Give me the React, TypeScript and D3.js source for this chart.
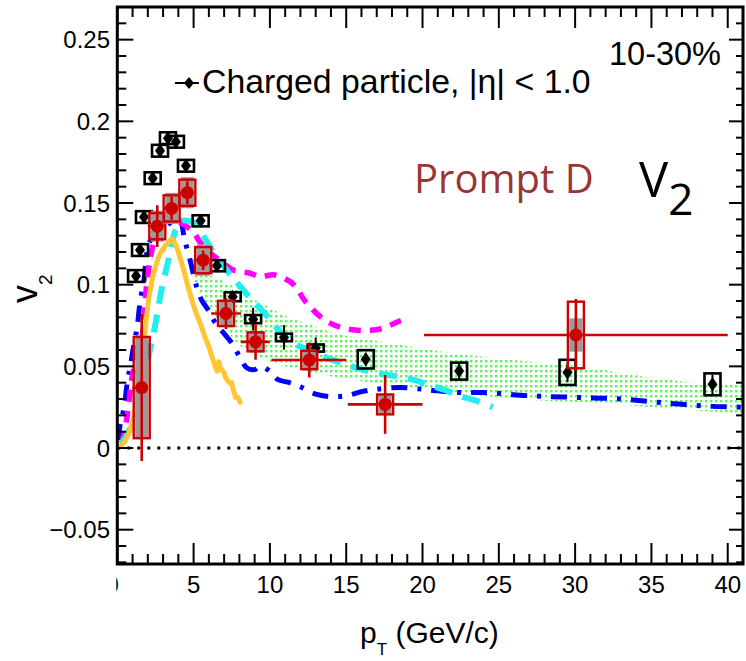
import React from 'react';
import * as d3 from 'd3';

const W = 746;
const H = 661;
const FRAME = { left: 117.3, right: 743, top: 7, bottom: 564 };

// Charged-particle v2, |eta| < 1.0
const chargedPt = [1.23, 1.49, 1.75, 2.32, 2.8, 3.32, 3.84, 4.5, 5.46, 6.53, 7.56, 8.9, 10.92, 13.0, 16.28, 22.4, 29.5, 39.0];
const chargedV2 = [0.1053, 0.1212, 0.1414, 0.1652, 0.182, 0.1897, 0.1875, 0.1728, 0.1391, 0.1116, 0.0926, 0.0789, 0.0677, 0.0612, 0.0543, 0.0471, 0.0463, 0.039];
const chargedStat = [0.002, 0.002, 0.002, 0.002, 0.002, 0.002, 0.002, 0.002, 0.002, 0.002, 0.003, 0.007, 0.0075, 0.0065, 0.004, 0.005, 0.006, 0.006];
const chargedSys = [0.0036, 0.0036, 0.0036, 0.0036, 0.0036, 0.0036, 0.0036, 0.0036, 0.0034, 0.0034, 0.0027, 0.0025, 0.0023, 0.0022, 0.0056, 0.0052, 0.0077, 0.0067];

// Prompt D-meson v2
const dPt = [1.6, 2.62, 3.56, 4.59, 5.63, 7.12, 9.06, 12.58, 17.55, 30.05];
const dPtLow = [1, 2, 3, 4, 5, 6.15, 8.1, 10.1, 15.1, 20.1];
const dPtHigh = [2, 3, 4, 5, 6, 8.1, 10, 15, 20, 40];
const dV2 = [0.037, 0.1358, 0.1467, 0.1563, 0.115, 0.0824, 0.065, 0.0539, 0.0267, 0.0692];
const dStat = [0.045, 0.0128, 0.007, 0.007, 0.006, 0.0095, 0.011, 0.0107, 0.018, 0.022];
const dSys = [0.031, 0.008, 0.008, 0.008, 0.008, 0.0077, 0.0058, 0.0056, 0.0061, 0.0204];
const dFeedDownSys = [0.031, 0.0095, 0.0095, 0.0095, 0.0095, 0.0085, 0.0065, 0.0065, 0.0065, 0.0102];

// Model band (green dotted)
const bandPt = [5.0, 5.5, 6.0, 7.0, 8.0, 9.0, 10.0, 11.0, 12.5, 14.0, 16.0, 18.0, 20.0, 22.0, 25.0, 28.0, 31.0, 35.0, 38.0, 41.0];
const bandLow = [0.1, 0.094, 0.087, 0.074, 0.063, 0.057, 0.053, 0.05, 0.047, 0.044, 0.041, 0.038, 0.036, 0.034, 0.031, 0.029, 0.028, 0.025, 0.023, 0.021];
const bandHigh = [0.108, 0.108, 0.106, 0.102, 0.097, 0.091, 0.086, 0.081, 0.076, 0.071, 0.067, 0.064, 0.061, 0.058, 0.055, 0.052, 0.049, 0.043, 0.04, 0.0385];

// Model curve (gold, solid)
const goldPt = [0.2, 0.5, 0.8, 1.0, 1.2, 1.4, 1.6, 1.75, 1.9, 2.05, 2.3, 2.5, 2.75, 3.0, 3.25, 3.5, 3.6, 3.75, 3.9, 4.1, 4.35, 4.6, 4.9, 5.15, 5.45, 5.7, 6.0, 6.2, 6.42, 6.55, 6.64, 6.75, 6.86, 7.0, 7.1, 7.25, 7.4, 7.5, 7.6, 7.75, 7.9, 8.05];
const goldV2 = [0.001, 0.004, 0.01, 0.016, 0.025, 0.036, 0.052, 0.066, 0.079, 0.091, 0.104, 0.111, 0.118, 0.122, 0.125, 0.1275, 0.128, 0.126, 0.123, 0.117, 0.109, 0.1, 0.09, 0.083, 0.076, 0.069, 0.062, 0.056, 0.0498, 0.047, 0.0528, 0.049, 0.0477, 0.046, 0.043, 0.041, 0.0396, 0.04, 0.0355, 0.031, 0.031, 0.028];

// Model curve (cyan, dashed)
const cyanPt = [0.3, 1.0, 1.6, 2.0, 2.5, 2.9, 3.4, 3.8, 4.2, 4.7, 5.2, 5.7, 6.5, 7.6, 8.6, 9.9, 11.1, 13.0, 14.7, 16.5, 19.3, 20.3, 21.6, 22.4, 23.5, 24.6];
const cyanV2 = [0.003, 0.015, 0.035, 0.054, 0.076, 0.097, 0.117, 0.133, 0.139, 0.139, 0.137, 0.129, 0.117, 0.104, 0.093, 0.08, 0.067, 0.058, 0.052, 0.047, 0.042, 0.039, 0.035, 0.032, 0.029, 0.025];

// Model curve (magenta, dashed)
const magentaPt = [0.3, 0.6, 1.0, 1.3, 1.6, 1.9, 2.2, 2.5, 3.0, 3.4, 4.0, 4.9, 5.5, 6.0, 6.7, 7.6, 8.7, 9.35, 10.3, 11.3, 11.75, 12.3, 13.5, 14.6, 16.0, 17.3, 18.3, 19.0];
const magentaV2 = [0.003, 0.017, 0.045, 0.056, 0.066, 0.098, 0.118, 0.13, 0.14, 0.144, 0.139, 0.133, 0.125, 0.12, 0.115, 0.109, 0.107, 0.105, 0.106, 0.102, 0.098, 0.09, 0.079, 0.074, 0.072, 0.073, 0.077, 0.0795];

// Model curve (blue, dash-dotted)
const bluePt = [0.05, 0.2, 0.45, 0.65, 0.85, 1.1, 1.3, 1.5, 1.75, 1.9, 2.1, 2.6, 3.2, 3.8, 4.1, 4.4, 4.8, 5.1, 5.5, 6.0, 6.4, 7.0, 7.6, 8.0, 8.5, 9.0, 9.4, 10.0, 10.5, 11.3, 12.0, 13.0, 14.0, 15.0, 16.0, 17.0, 18.5, 20.0, 21.0, 22.4, 24.0, 27.0, 30.0, 33.0, 36.0, 39.0, 41.0];
const blueV2 = [0.005, 0.015, 0.025, 0.04, 0.05, 0.064, 0.074, 0.09, 0.103, 0.117, 0.126, 0.131, 0.136, 0.14, 0.14, 0.128, 0.114, 0.102, 0.091, 0.084, 0.077, 0.07, 0.063, 0.056, 0.049, 0.048, 0.05, 0.047, 0.042, 0.04, 0.0375, 0.033, 0.0315, 0.032, 0.0345, 0.036, 0.037, 0.036, 0.035, 0.034, 0.034, 0.032, 0.031, 0.03, 0.0275, 0.0255, 0.025];

// Axis ticks and labels
const xMajorTicks = [0, 5, 10, 15, 20, 25, 30, 35, 40];
const xTickLabels = ['0', '5', '10', '15', '20', '25', '30', '35', '40'];
const yMajorTicks = [-0.05, 0, 0.05, 0.1, 0.15, 0.2, 0.25];
const yTickLabels = ['\u22120.05', '0', '0.05', '0.1', '0.15', '0.2', '0.25'];

const RED = '#cc0000';
const SANS = "'Liberation Sans', Arial, Helvetica, sans-serif";

export default function App() {
  const x = d3.scaleLinear().domain([0, 41]).range([FRAME.left, FRAME.right]);
  const y = d3.scaleLinear().domain([-0.071, 0.27]).range([FRAME.bottom, FRAME.top]);

  const line = (xs: number[], ys: number[], curve = d3.curveCatmullRom) =>
    d3.line<number>().x((_, i) => x(xs[i])).y((_, i) => y(ys[i])).curve(curve)(xs.map((_, i) => i)) || '';

  const bandPath =
    d3
      .area<number>()
      .x((i) => x(bandPt[i]))
      .y0((i) => y(bandLow[i]))
      .y1((i) => y(bandHigh[i]))
      .curve(d3.curveMonotoneX)(bandPt.map((_, i) => i)) || '';

  const xMinor = d3.range(0, 42, 1);
  const yMinor = d3.range(-7, 28).map((i) => i / 100);

  const chargedBoxW = 16;
  const dBoxW = 16;
  const dGreyW = 13;

  return (
    <svg width={W} height={H} style={{ position: 'absolute', left: 0, top: 0, background: '#fff' }}>
      <defs>
        <pattern id="greenDots" width={5} height={5} patternUnits="userSpaceOnUse">
          <rect x={0} y={0} width={2.4} height={2.4} fill="#5af55a" />
        </pattern>
        <clipPath id="plotClip">
          <rect x={FRAME.left} y={FRAME.top} width={FRAME.right - FRAME.left} height={FRAME.bottom - FRAME.top} />
        </clipPath>
        <clipPath id="zeroLabelClip">
          <rect x={116.3} y={560} width={40} height={60} />
        </clipPath>
      </defs>

      <g clipPath="url(#plotClip)">
        {/* model band */}
        <path d={bandPath} fill="url(#greenDots)" stroke="none" />

        {/* zero line */}
        <line x1={x(0)} x2={x(41)} y1={y(0)} y2={y(0)} stroke="#000" strokeWidth={3} strokeDasharray="3 7" />

        {/* model curves */}
        <path d={line(bluePt, blueV2)} fill="none" stroke="#0000ff" strokeWidth={5} strokeDasharray="16 10 4 10" />
        <path d={line(magentaPt, magentaV2)} fill="none" stroke="#ff00ff" strokeWidth={5.5} strokeDasharray="12 9" />
        <path d={line(cyanPt, cyanV2)} fill="none" stroke="#22eeee" strokeWidth={6} strokeDasharray="18 11" />
        <path d={line(goldPt, goldV2, d3.curveLinear)} fill="none" stroke="#ffc533" strokeWidth={5} strokeLinejoin="round" strokeLinecap="round" />

        {/* charged particles */}
        {chargedPt.map((pt, i) => {
          const cx = x(pt);
          const cy = y(chargedV2[i]);
          const top = y(chargedV2[i] + chargedSys[i]);
          const bot = y(chargedV2[i] - chargedSys[i]);
          return (
            <g key={`ch${i}`}>
              <line x1={cx} x2={cx} y1={y(chargedV2[i] + chargedStat[i])} y2={y(chargedV2[i] - chargedStat[i])} stroke="#000" strokeWidth={2} />
              <rect x={cx - chargedBoxW / 2} y={top} width={chargedBoxW} height={bot - top} fill="none" stroke="#000" strokeWidth={2.6} />
              <path d={`M${cx},${cy - 7} L${cx + 5},${cy} L${cx},${cy + 7} L${cx - 5},${cy} Z`} fill="#000" />
            </g>
          );
        })}

        {/* prompt D */}
        {dPt.map((pt, i) => {
          const cx = x(pt);
          const cy = y(dV2[i]);
          const gTop = y(dV2[i] + dFeedDownSys[i]);
          const gBot = y(dV2[i] - dFeedDownSys[i]);
          const rTop = y(dV2[i] + dSys[i]);
          const rBot = y(dV2[i] - dSys[i]);
          return (
            <g key={`d${i}`}>
              <rect x={cx - dGreyW / 2} y={gTop} width={dGreyW} height={gBot - gTop} fill="#9a9a9a" />
              <line x1={x(dPtLow[i])} x2={x(dPtHigh[i])} y1={cy} y2={cy} stroke={RED} strokeWidth={2.6} />
              <line x1={cx} x2={cx} y1={y(dV2[i] + dStat[i])} y2={y(dV2[i] - dStat[i])} stroke={RED} strokeWidth={2.6} />
              <rect x={cx - dBoxW / 2} y={rTop} width={dBoxW} height={rBot - rTop} fill="none" stroke={RED} strokeWidth={2.4} />
              <circle cx={cx} cy={cy} r={6.5} fill={RED} />
            </g>
          );
        })}
      </g>

      {/* frame */}
      <rect x={FRAME.left} y={FRAME.top} width={FRAME.right - FRAME.left} height={FRAME.bottom - FRAME.top} fill="none" stroke="#000" strokeWidth={3} />

      {/* x ticks: bottom and top */}
      {xMinor.map((v) => {
        const major = v % 5 === 0;
        const len = major ? 21 : 10;
        return (
          <g key={`xt${v}`}>
            <line x1={x(v)} x2={x(v)} y1={FRAME.bottom} y2={FRAME.bottom - len} stroke="#000" strokeWidth={2} />
            <line x1={x(v)} x2={x(v)} y1={FRAME.top} y2={FRAME.top + len} stroke="#000" strokeWidth={2} />
          </g>
        );
      })}

      {/* y ticks: left and right */}
      {yMinor.map((v) => {
        const major = Math.abs(Math.round(v * 100) % 5) === 0;
        return (
          <g key={`yt${v}`}>
            <line x1={FRAME.left} x2={FRAME.left + (major ? 16 : 9)} y1={y(v)} y2={y(v)} stroke="#000" strokeWidth={2} />
            <line x1={FRAME.right} x2={FRAME.right - (major ? 14 : 7)} y1={y(v)} y2={y(v)} stroke="#000" strokeWidth={2} />
          </g>
        );
      })}

      {/* tick labels */}
      <g fontFamily={SANS} fontSize={24} fill="#000">
        {yMajorTicks.map((v, i) => (
          <text key={`yl${i}`} x={110} y={y(v)} dy="0.36em" textAnchor="end">
            {yTickLabels[i]}
          </text>
        ))}
        {xMajorTicks.map((v, i) =>
          v === 0 ? (
            <text key={`xl${i}`} x={x(v) - 5} y={593} textAnchor="middle" clipPath="url(#zeroLabelClip)">
              {xTickLabels[i]}
            </text>
          ) : (
            <text key={`xl${i}`} x={x(v)} y={593} textAnchor="middle">
              {xTickLabels[i]}
            </text>
          )
        )}
      </g>

      {/* axis titles */}
      <text x={360} y={643} fontFamily={SANS} fontSize={30} fill="#000">
        <tspan>p</tspan>
        <tspan fontSize={17} dy={12}>T</tspan>
        <tspan dy={-12}> (GeV/c)</tspan>
      </text>
      <text transform="translate(37,303) rotate(-90)" fontFamily={SANS} fontSize={36} fill="#000">
        <tspan>v</tspan>
        <tspan fontSize={19} dy={15}>2</tspan>
      </text>

      {/* legend */}
      <line x1={175} x2={199} y1={83} y2={83} stroke="#000" strokeWidth={2} />
      <path d="M189,77 L194,83 L189,89 L184,83 Z" fill="#000" />
      <text x={202} y={93} fontFamily={SANS} fontSize={33.8} fill="#000">
        Charged particle, |η| &lt; 1.0
      </text>

      <text x={609} y={65} fontFamily={SANS} fontSize={32.5} fill="#000">
        10-30%
      </text>

      <text x={414} y={193} fontFamily="'Open Sans', sans-serif" fontSize={40} fill="#9a3535">
        Prompt D
      </text>

      <text x={639} y={197} fontFamily="'Open Sans', sans-serif" fontSize={49} fill="#000">
        <tspan>V</tspan>
        <tspan fontSize={44} dy={18}>2</tspan>
      </text>
    </svg>
  );
}
